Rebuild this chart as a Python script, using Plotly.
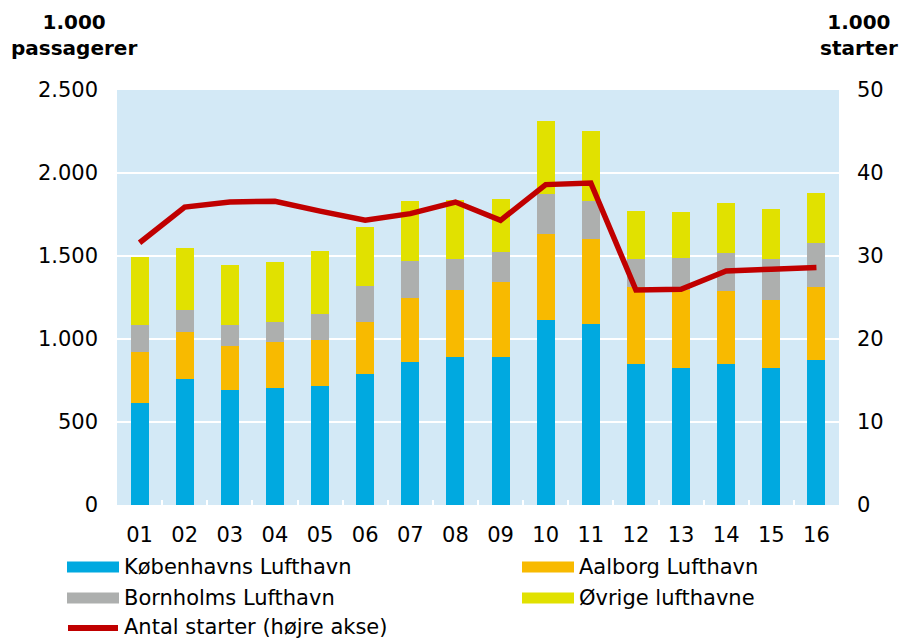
import plotly.graph_objects as go

# Passengers per year (1.000 passagerer), stacked by airport
years = ["01", "02", "03", "04", "05", "06", "07", "08",
         "09", "10", "11", "12", "13", "14", "15", "16"]
kobenhavn = [614, 762, 690, 702, 716, 792, 864, 890,
             890, 1112, 1088, 848, 824, 848, 824, 872]
aalborg = [310, 278, 270, 280, 280, 312, 386, 406,
           454, 522, 514, 468, 470, 440, 410, 442]
bornholm = [162, 132, 122, 118, 154, 214, 222, 188,
            180, 238, 228, 168, 196, 232, 250, 264]
ovrige = [408, 378, 364, 364, 378, 358, 358, 356,
          318, 442, 422, 290, 274, 298, 300, 304]

# Number of take-offs (1.000 starter), right axis
starter = [31.6, 35.9, 36.5, 36.6, 35.4, 34.3, 35.1, 36.5,
           34.3, 38.6, 38.8, 25.9, 26.0, 28.2, 28.4, 28.6]

left_ticks = [0, 500, 1000, 1500, 2000, 2500]
left_labels = ["0", "500", "1.000", "1.500", "2.000", "2.500"]
right_ticks = [0, 10, 20, 30, 40, 50]
right_labels = ["0", "10", "20", "30", "40", "50"]

bar_series = [
    ("Københavns Lufthavn", kobenhavn, "#00A9E0"),
    ("Aalborg Lufthavn", aalborg, "#F8BA00"),
    ("Bornholms Lufthavn", bornholm, "#ADAFAE"),
    ("Øvrige lufthavne", ovrige, "#E1E100"),
]
line_name = "Antal starter (højre akse)"
line_color = "#C00000"

FONT = "DejaVu Sans"
TICK_SIZE = 21
LEGEND_SIZE = 21

fig = go.Figure()
for name, vals, color in bar_series:
    fig.add_trace(go.Bar(x=years, y=vals, name=name,
                         marker=dict(color=color, line=dict(width=0)),
                         showlegend=False))
fig.add_trace(go.Scatter(x=years, y=starter, name=line_name, yaxis="y2",
                         mode="lines",
                         line=dict(color=line_color, width=5.5),
                         showlegend=False))

# plot area in pixels: x 117..839, y 90..505
PL, PR, PT, PB = 117, 839, 90, 505
W, H = PR - PL, PB - PT


def px(x):
    return (x - PL) / W


def py(y):
    return (PB - y) / H


shapes = []
annotations = []

# legend drawn as swatches + labels, two columns
legend_slots = [(67, 567), (522, 567), (67, 598), (522, 598)]
for (name, _, color), (lx, ly) in zip(bar_series, legend_slots):
    shapes.append(dict(type="rect", xref="paper", yref="paper",
                       x0=px(lx), x1=px(lx + 52),
                       y0=py(ly + 5.5), y1=py(ly - 5.5),
                       fillcolor=color, line=dict(width=0)))
    annotations.append(dict(text=name, xref="paper", yref="paper",
                            x=px(lx + 55), y=py(ly), xanchor="left",
                            yanchor="middle", showarrow=False,
                            font=dict(family=FONT, size=LEGEND_SIZE,
                                      color="#000")))
shapes.append(dict(type="line", xref="paper", yref="paper",
                   x0=px(68), x1=px(118), y0=py(628), y1=py(628),
                   line=dict(color=line_color, width=6)))
annotations.append(dict(text=line_name, xref="paper", yref="paper",
                        x=px(122), y=py(627), xanchor="left",
                        yanchor="middle", showarrow=False,
                        font=dict(family=FONT, size=LEGEND_SIZE,
                                  color="#000")))

# axis titles above the tick labels
annotations.append(dict(text="<b>1.000</b><br><b>passagerer</b>",
                        xref="paper", yref="paper", x=px(74), y=py(8),
                        xanchor="center", yanchor="top", showarrow=False,
                        align="center",
                        font=dict(family=FONT, size=20, color="#000")))
annotations.append(dict(text="<b>1.000</b><br><b>starter</b>",
                        xref="paper", yref="paper", x=px(859), y=py(8),
                        xanchor="center", yanchor="top", showarrow=False,
                        align="center",
                        font=dict(family=FONT, size=20, color="#000")))

fig.update_layout(
    width=901, height=639,
    margin=dict(l=PL, r=901 - PR, t=PT, b=639 - PB),
    paper_bgcolor="white",
    plot_bgcolor="#D3E9F6",
    barmode="stack",
    bargap=0.6,
    font=dict(family=FONT, size=TICK_SIZE, color="#000"),
    xaxis=dict(type="category", tickson="boundaries", ticks="inside",
               ticklen=5, tickwidth=2, tickcolor="white",
               showgrid=False, showline=False, zeroline=False,
               ticklabelstandoff=15,
               tickfont=dict(family=FONT, size=TICK_SIZE, color="#000")),
    yaxis=dict(range=[0, 2500], tickvals=left_ticks, ticktext=left_labels,
               showgrid=True, gridcolor="white", gridwidth=2,
               zeroline=False, showline=False, ticks="",
               ticklabelstandoff=18,
               tickfont=dict(family=FONT, size=TICK_SIZE, color="#000")),
    yaxis2=dict(range=[0, 50], tickvals=right_ticks, ticktext=right_labels,
                overlaying="y", side="right", showgrid=False,
                zeroline=False, showline=False, ticks="",
                ticklabelstandoff=17,
                tickfont=dict(family=FONT, size=TICK_SIZE, color="#000")),
    shapes=shapes,
    annotations=annotations,
    showlegend=False,
)

fig.write_html("out.html")
